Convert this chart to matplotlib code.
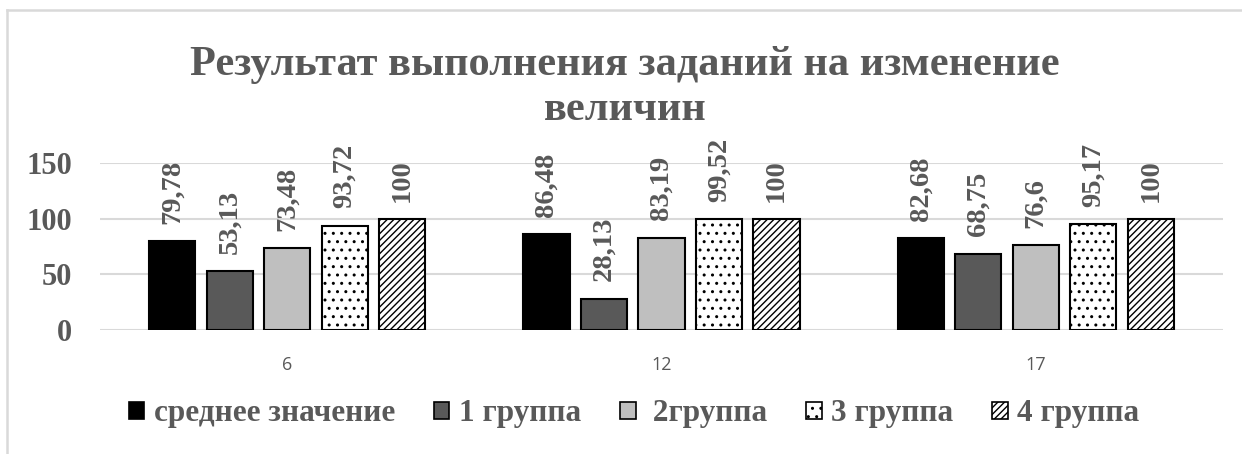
import matplotlib
matplotlib.use("Agg")
import matplotlib.pyplot as plt
from matplotlib.patches import Patch
from matplotlib.lines import Line2D
import numpy as np

# Data
categories = ["6", "12", "17"]
series_names = ["среднее значение", "1 группа", " 2группа", "3 группа", "4 группа"]
avg_vals = [79.78, 86.48, 82.68]
g1_vals = [53.13, 28.13, 68.75]
g2_vals = [73.48, 83.19, 76.6]
g3_vals = [93.72, 99.52, 95.17]
g4_vals = [100, 100, 100]
y_ticks = [0, 50, 100, 150]
title_line1 = "Результат выполнения заданий на изменение"
title_line2 = "величин"

series_vals = [avg_vals, g1_vals, g2_vals, g3_vals, g4_vals]
face_colors = ["#000000", "#595959", "#BFBFBF", "#FFFFFF", "#FFFFFF"]
hatches = [None, None, None, "..", "/////"]

TEXT_GRAY = "#595959"
GRID_GRAY = "#D9D9D9"
SERIF = "Liberation Serif"

plt.rcParams["hatch.linewidth"] = 1.0
plt.rcParams["hatch.color"] = "#404040"

W, H = 1242, 454
fig = plt.figure(figsize=(W / 100, H / 100), dpi=100)

# chart-area frame (left and top edges visible)
fig.add_artist(Line2D([7 / W, 7 / W], [0, 1 - 10 / H], color=GRID_GRAY, lw=1.8,
                      transform=fig.transFigure))
fig.add_artist(Line2D([7 / W, 1], [1 - 10 / H, 1 - 10 / H], color=GRID_GRAY, lw=1.8,
                      transform=fig.transFigure))

left, right = 100 / W, 1223 / W
bottom, top = 1 - 330 / H, 1 - 163.3 / H
ax = fig.add_axes([left, bottom, right - left, top - bottom])

x = np.arange(len(categories))
bar_w = 0.123
pitch = 0.1536
n = len(series_vals)
for i, vals in enumerate(series_vals):
    pos = x + (i - (n - 1) / 2) * pitch
    bars = ax.bar(pos, vals, width=bar_w, color=face_colors[i], edgecolor="#000000",
                  linewidth=1.5, hatch=hatches[i], zorder=3, label=series_names[i])
    for b, v in zip(bars, vals):
        txt = f"{v:g}".replace(".", ",")
        ax.annotate(txt, (b.get_x() + b.get_width() / 2, v), xytext=(0, 12.5),
                    textcoords="offset points", rotation=90, ha="center", va="bottom",
                    fontsize=20.5, fontweight="bold", family=SERIF, color=TEXT_GRAY,
                    annotation_clip=False)

ax.set_xlim(-0.5, len(categories) - 0.5)
ax.set_ylim(0, 150)
ax.set_yticks(y_ticks)
ax.set_xticks(x)
ax.set_xticklabels(categories)
ax.grid(axis="y", color=GRID_GRAY, lw=1.5, zorder=0)
ax.set_axisbelow(True)
for s in ax.spines.values():
    s.set_visible(False)
ax.tick_params(axis="both", length=0)
ax.tick_params(axis="y", pad=20)
ax.tick_params(axis="x", pad=19)
for t in ax.get_yticklabels():
    t.set_fontfamily(SERIF)
    t.set_fontweight("bold")
    t.set_fontsize(22)
    t.set_color(TEXT_GRAY)
for t in ax.get_xticklabels():
    t.set_fontfamily("Open Sans")
    t.set_fontsize(13)
    t.set_color(TEXT_GRAY)

# title
fig.text(625 / W, 1 - 75 / H, title_line1, ha="center", va="baseline",
         fontsize=30.5, fontweight="bold", family=SERIF, color=TEXT_GRAY)
fig.text(625 / W, 1 - 120 / H, title_line2, ha="center", va="baseline",
         fontsize=30.5, fontweight="bold", family=SERIF, color=TEXT_GRAY)

# legend
handles = [Patch(facecolor=face_colors[i], edgecolor="#000000", linewidth=1.2,
                 hatch=hatches[i]) for i in range(n)]
leg = fig.legend(handles, series_names, loc="center", bbox_to_anchor=(634 / W, 1 - 414 / H),
                 ncol=5, frameon=False, handlelength=0.5, handleheight=0.5,
                 handletextpad=0.3, columnspacing=1.25,
                 prop={"family": SERIF, "weight": "bold", "size": 22.5})
for t in leg.get_texts():
    t.set_color(TEXT_GRAY)

fig.savefig("out.png", dpi=100)
